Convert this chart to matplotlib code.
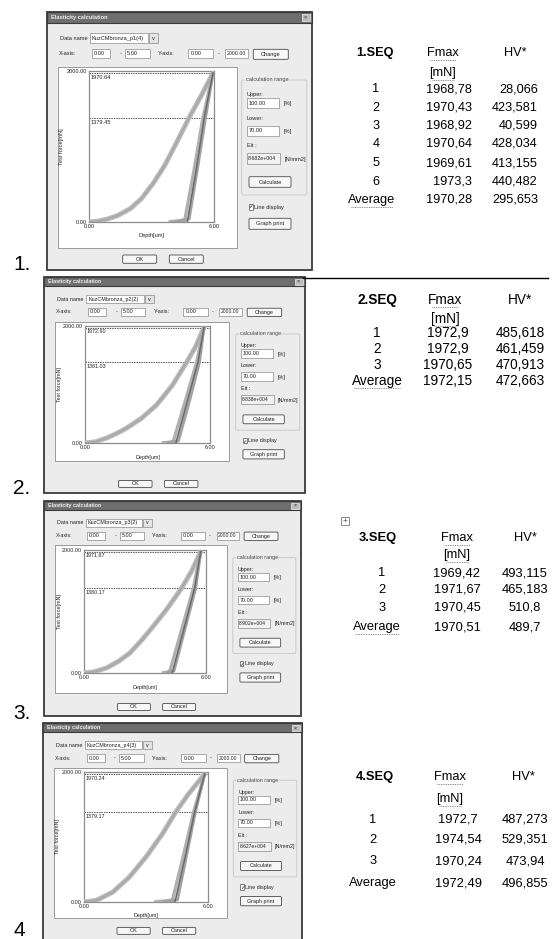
import matplotlib
matplotlib.use('Agg')
import matplotlib.pyplot as plt
from matplotlib.patches import Rectangle, FancyBboxPatch

plt.rcParams['font.family'] = ['Liberation Sans', 'DejaVu Sans']

# ---------------- data ----------------
panel_labels = ['1.', '2.', '3.', '4']
data_names = ['KuzCMbronza_p1(4)', 'KuzCMbronza_p2(2)', 'KuzCMbronza_p3(2)', 'KuzCMbronza_p4(3)']
eit_values = ['8.682e+004', '8.838e+004', '8.902e+004', '8.627e+004']
upper_pct = '100.00'
lower_pct = '70.00'
fmax_plot = [1970.64, 1972.90, 1971.67, 1970.24]
lower_plot = [1379.45, 1381.03, 1380.17, 1379.17]
x_ticks = [0, 6]
y_ticks = [0, 2000]

load_depth_p1 = [0.0, 0.4, 0.9, 1.4, 2.0, 2.52, 3.1, 3.64, 4.2, 4.8, 5.4, 5.95]
load_force_p1 = [0, 10, 40, 88, 180, 310, 520, 752, 1050, 1379, 1680, 1971]
unload_depth_p1 = [[3.9, 4.3, 4.6, 5.05, 5.47, 5.95],
                   [4.2, 4.55, 4.8, 5.2, 5.59, 5.95],
                   [4.72, 5.15, 5.53, 5.95]]
unload_force_p1 = [[5, 15, 30, 700, 1379, 1971],
                   [8, 20, 40, 700, 1379, 1971],
                   [0, 700, 1379, 1971]]

load_depth_p2 = [0.0, 0.5, 1.04, 1.5, 2.0, 2.7, 3.44, 4.2, 4.88, 5.3, 5.71]
load_force_p2 = [0, 20, 85, 160, 255, 420, 651, 990, 1381, 1640, 1973]
unload_depth_p2 = [[3.76, 4.1, 4.24, 4.8, 5.36, 5.71],
                   [4.0, 4.3, 4.48, 5.0, 5.49, 5.71],
                   [4.36, 4.9, 5.42, 5.71]]
unload_force_p2 = [[5, 15, 30, 700, 1381, 1973],
                   [8, 20, 35, 700, 1381, 1973],
                   [0, 700, 1381, 1973]]

load_depth_p3 = [0.0, 0.5, 1.1, 1.7, 2.25, 2.8, 3.4, 4.1, 4.8, 5.3, 5.74]
load_force_p3 = [0, 20, 81, 190, 324, 520, 757, 1050, 1380, 1660, 1972]
unload_depth_p3 = [[3.9, 4.1, 4.22, 4.8, 5.38, 5.74],
                   [4.1, 4.3, 4.42, 4.95, 5.49, 5.74],
                   [4.34, 4.9, 5.44, 5.74]]
unload_force_p3 = [[5, 15, 30, 700, 1380, 1972],
                   [8, 20, 35, 700, 1380, 1972],
                   [0, 700, 1380, 1972]]

load_depth_p4 = [0.0, 0.61, 1.4, 2.2, 3.0, 3.8, 4.44, 5.07, 5.84]
load_force_p4 = [0, 26, 154, 385, 692, 1051, 1385, 1667, 1970]
unload_depth_p4 = [[3.48, 3.9, 4.28, 4.8, 5.3, 5.84],
                   [3.9, 4.3, 4.52, 4.95, 5.38, 5.84],
                   [4.4, 4.9, 5.35, 5.84]]
unload_force_p4 = [[5, 15, 30, 700, 1379, 1970],
                   [8, 20, 35, 700, 1379, 1970],
                   [0, 700, 1379, 1970]]

seq_titles = ['1.SEQ', '2.SEQ', '3.SEQ', '4.SEQ']
seq1_rows = ['1', '2', '3', '4', '5', '6', 'Average']
seq1_fmax = [1968.78, 1970.43, 1968.92, 1970.64, 1969.61, 1973.3, 1970.28]
seq1_hv = [28.066, 423.581, 40.599, 428.034, 413.155, 440.482, 295.653]
seq2_rows = ['1', '2', '3', 'Average']
seq2_fmax = [1972.9, 1972.9, 1970.65, 1972.15]
seq2_hv = [485.618, 461.459, 470.913, 472.663]
seq3_rows = ['1', '2', '3', 'Average']
seq3_fmax = [1969.42, 1971.67, 1970.45, 1970.51]
seq3_hv = [493.115, 465.183, 510.8, 489.7]
seq4_rows = ['1', '2', '3', 'Average']
seq4_fmax = [1972.7, 1974.54, 1970.24, 1972.49]
seq4_hv = [487.273, 529.351, 473.94, 496.855]

# ---------------- figure ----------------
W, H = 555, 939
fig = plt.figure(figsize=(W / 100, H / 100), dpi=100)
fig.patch.set_facecolor('white')
bg = fig.add_axes([0, 0, 1, 1])
bg.set_xlim(0, W)
bg.set_ylim(H, 0)
bg.axis('off')


def px_rect(x0, y0, x1, y1):
    return [x0 / W, 1 - y1 / H, (x1 - x0) / W, (y1 - y0) / H]


dialogs = [(47, 12, 312, 270), (44, 277, 305, 493), (44, 501, 301, 716), (43, 723, 302, 940)]
outer_boxes = [(58, 67, 237, 248), (55, 322, 229, 461), (55, 545, 227, 693), (54, 768, 227, 918)]
inner_boxes = [(89, 71, 214, 222), (85, 326, 210, 443), (84, 550, 206, 673), (84, 772, 208, 902)]
label_pos = [(13, 270), (13, 494), (13, 719), (13, 936)]
loads = [(load_depth_p1, load_force_p1), (load_depth_p2, load_force_p2),
         (load_depth_p3, load_force_p3), (load_depth_p4, load_force_p4)]
unloads = [(unload_depth_p1, unload_force_p1), (unload_depth_p2, unload_force_p2),
           (unload_depth_p3, unload_force_p3), (unload_depth_p4, unload_force_p4)]

BASE_W, BASE_H = 265.0, 258.0
TXT = '#222222'


def draw_dialog(i):
    x0, y0, x1, y1 = dialogs[i]
    sx = (x1 - x0) / BASE_W
    sy = (y1 - y0) / BASE_H
    fs = 4.1 if i == 0 else 3.9

    def P(rx, ry):
        return x0 + rx * sx, y0 + ry * sy

    def box(rx0, ry0, rx1, ry1, fc='white', ec='#8a8a8a', lw=0.5, z=2):
        a, b = P(rx0, ry0)
        c, d = P(rx1, ry1)
        bg.add_patch(Rectangle((a, b), c - a, d - b, facecolor=fc, edgecolor=ec, lw=lw, zorder=z))

    def button(rx0, ry0, rx1, ry1, text):
        a, b = P(rx0, ry0)
        c, d = P(rx1, ry1)
        bg.add_patch(FancyBboxPatch((a, b), c - a, d - b, boxstyle='round,pad=0,rounding_size=1.2',
                                    facecolor='#f7f7f7', edgecolor='#4a4a4a', lw=0.6, zorder=2))
        bg.text((a + c) / 2, (b + d) / 2, text, fontsize=fs, ha='center', va='center', color=TXT, zorder=3)

    def txt(rx, ry, s, ha='left', size=None):
        a, b = P(rx, ry)
        bg.text(a, b, s, fontsize=size or fs, ha=ha, va='center', color=TXT, zorder=3)

    # body
    bg.add_patch(Rectangle((x0, y0), x1 - x0, y1 - y0, facecolor='#ececec', edgecolor='#3a3a3a', lw=1.3, zorder=1))
    # title bar
    a, b = P(0, 0)
    c, d = P(BASE_W, 10.5)
    bg.add_patch(Rectangle((a, b), c - a, d - b, facecolor='#6e6e6e', edgecolor='#3a3a3a', lw=0.8, zorder=2))
    bg.text(a + 4 * sx, (b + d) / 2, 'Elasticity calculation', fontsize=fs, color='#f0f0f0',
            ha='left', va='center', fontweight='bold', zorder=3)
    box(254.5, 2, 262.5, 9, fc='#bdbdbd', ec='#eeeeee', lw=0.5, z=3)
    txt(258.5, 5.5, '×', ha='center')

    txt(13, 26.3, 'Data name')
    box(43, 21.3, 101.3, 31.3)
    txt(45, 26.3, data_names[i])
    box(102.3, 21.3, 111.3, 31.3, fc='#e4e4e4')
    txt(106.8, 26.3, 'v', ha='center')

    txt(12.3, 41.7, 'X-axis:')
    box(44.7, 37, 63, 46.3)
    txt(46.5, 41.7, '0.00')
    txt(73.7, 41.7, '-', ha='center')
    box(78, 37, 103, 46.3)
    txt(80, 41.7, '5.00')
    txt(111.3, 41.7, 'Y-axis:')
    box(141.3, 37, 166.3, 46.3)
    txt(143.5, 41.7, '0.00')
    txt(171.3, 41.7, '-', ha='center')
    box(178, 37, 201.3, 46.3)
    txt(179.3, 41.7, '2000.00', size=fs * 0.92)
    button(206.3, 37.3, 241.3, 47.3, 'Change')

    # group box
    a, b = P(194.7, 68)
    c, d = P(259.7, 183)
    bg.add_patch(FancyBboxPatch((a, b), c - a, d - b, boxstyle='round,pad=0,rounding_size=1.5',
                                facecolor='none', edgecolor='#c6c6c6', lw=0.6, zorder=2))
    a, b = P(198.5, 68)
    bg.text(a, b, 'calculation range', fontsize=fs, ha='left', va='center', color='#444444', zorder=3,
            bbox=dict(boxstyle='square,pad=0.1', fc='#ececec', ec='none'))
    txt(199.7, 82.3, 'Upper:')
    box(199.7, 86.3, 232.3, 96.3)
    txt(201.5, 91.3, upper_pct)
    txt(237, 92, '[%]')
    txt(199.7, 106.3, 'Lower:')
    box(199.7, 113.7, 232.3, 124)
    txt(201.5, 118.8, lower_pct)
    txt(237, 119.7, '[%]')
    txt(199.7, 133.7, 'Eit :')
    box(199.7, 141.3, 233.3, 152, fc='#f2f2f2')
    txt(201.0, 146.6, eit_values[i], size=fs * 0.92)
    txt(237.3, 147.3, '[N/mm2]')
    button(202, 164.7, 244, 175.3, 'Calculate')

    box(202, 192, 205.7, 198, fc='white', ec='#555555', lw=0.5)
    txt(203.85, 195, '✓', ha='center')
    txt(207, 195, 'Line display')
    button(202, 206.3, 244, 217.3, 'Graph print')

    button(75.7, 243, 109.7, 251.3, 'OK')
    button(122.3, 243, 156.3, 251.3, 'Cancel')

    # plot frame
    ox0, oy0, ox1, oy1 = outer_boxes[i]
    bg.add_patch(Rectangle((ox0, oy0), ox1 - ox0, oy1 - oy0, facecolor='white', edgecolor='#9a9a9a', lw=0.7, zorder=2))
    ix0, iy0, ix1, iy1 = inner_boxes[i]
    bg.text(ox0 + 4, (iy0 + iy1) / 2, 'Test force[mN]', fontsize=fs, rotation=90, ha='center', va='center',
            color=TXT, zorder=3)
    bg.text((ix0 + ix1) / 2, iy1 + 14, 'Depth[um]', fontsize=fs, ha='center', va='center', color=TXT, zorder=3)

    ax = fig.add_axes(px_rect(ix0, iy0, ix1, iy1))
    ax.set_facecolor('white')
    ax.set_xlim(0, 6)
    ax.set_ylim(0, 2000)
    ax.set_xticks(x_ticks)
    ax.set_xticklabels(['%.2f' % v for v in x_ticks])
    ax.set_yticks(y_ticks)
    ax.set_yticklabels(['%.2f' % v for v in y_ticks])
    ax.tick_params(length=0, labelsize=fs, pad=1.5, colors=TXT)
    for s in ax.spines.values():
        s.set_color('#8c8c8c')
        s.set_linewidth(0.9)
    ax.axhline(fmax_plot[i], color='#555555', lw=0.7, ls=(0, (1.5, 1)))
    ax.axhline(lower_plot[i], color='#555555', lw=0.7, ls=(0, (1.5, 1)))
    ax.text(0.08, fmax_plot[i] - 25, '%.2f' % fmax_plot[i], fontsize=fs, va='top', ha='left', color=TXT)
    ax.text(0.08, lower_plot[i] - 25, '%.2f' % lower_plot[i], fontsize=fs, va='top', ha='left', color=TXT)

    ld, lf = loads[i]
    ax.plot(ld, lf, color='#bdbdbd', lw=3.6, solid_capstyle='round', zorder=3)
    ax.plot(ld, lf, color='#a9a9a9', lw=1.6, zorder=4)
    ud, uf = unloads[i]
    ucol = ['#b0b0b0', '#a2a2a2', '#6a6a6a']
    ulw = [2.4, 2.2, 1.1]
    for k in range(len(ud)):
        ax.plot(ud[k], uf[k], color=ucol[k], lw=ulw[k], zorder=5 + k)

    lx, ly = label_pos[i]
    bg.text(lx, ly, panel_labels[i], fontsize=15, ha='left', va='baseline', color='black')


for i in range(4):
    draw_dialog(i)

# separator line under first table
bg.plot([303, 548], [277.5, 277.5], color='black', lw=1.0)


def fmt(v):
    return str(v).replace('.', ',')


def underline(xc, y, w):
    bg.plot([xc - w / 2, xc + w / 2], [y, y], color='#8a8a8a', lw=0.7, ls=(0, (1, 0.8)))


def draw_table(title, tx, fx, hx, hdr_y, mn_y, rows_y, rows, fvals, hvals, fs,
               lab_x, avg_x, f_align, h_align, avg_ul, ul_off):
    bg.text(tx, hdr_y, title, fontsize=fs, fontweight='bold', ha='center', va='center', color='black')
    bg.text(fx, hdr_y, 'Fmax', fontsize=fs, ha='center', va='center', color='black')
    underline(fx, hdr_y + ul_off, 26 * fs / 9.5)
    bg.text(fx, mn_y, '[mN]', fontsize=fs, ha='center', va='center', color='black')
    underline(fx, mn_y + ul_off, 22 * fs / 9.5)
    bg.text(hx, hdr_y, 'HV*', fontsize=fs, ha='center', va='center', color='black')
    for k, (r, f, h) in enumerate(zip(rows, fvals, hvals)):
        y = rows_y[k]
        xl = avg_x if r == 'Average' else lab_x
        bg.text(xl, y, r, fontsize=fs, ha='center', va='center', color='black')
        if r == 'Average' and avg_ul:
            underline(xl, y + ul_off, 44 * fs / 9.5)
        bg.text(f_align[0], y, fmt(f), fontsize=fs, ha=f_align[1], va='center', color='black')
        bg.text(h_align[0], y, fmt(h), fontsize=fs, ha=h_align[1], va='center', color='black')


draw_table(seq_titles[0], 375, 443, 515, 53, 73, [89, 108, 126, 144, 163, 182, 200],
           seq1_rows, seq1_fmax, seq1_hv, 9.2, 376, 372, (472, 'right'), (538, 'right'), True, 6.5)
draw_table(seq_titles[1], 377, 445, 520, 300, 319, [333, 349, 365, 381],
           seq2_rows, seq2_fmax, seq2_hv, 9.8, 377, 377, (448, 'center'), (520, 'center'), True, 6.5)
draw_table(seq_titles[2], 378, 457, 525, 538, 555, [573, 590, 608, 627],
           seq3_rows, seq3_fmax, seq3_hv, 9.3, 382, 377, (457, 'center'), (525, 'center'), True, 6.5)
draw_table(seq_titles[3], 375, 450, 523, 777, 799, [820, 840, 861, 883],
           seq4_rows, seq4_fmax, seq4_hv, 9.3, 373, 373, (458, 'center'), (525, 'center'), False, 6.5)

# table move handle
bg.add_patch(Rectangle((341, 517), 8, 8, facecolor='white', edgecolor='#777777', lw=0.6))
bg.text(345, 521, '+', fontsize=6, ha='center', va='center', color='#444444')

fig.savefig('out.png', dpi=100, facecolor='white')
